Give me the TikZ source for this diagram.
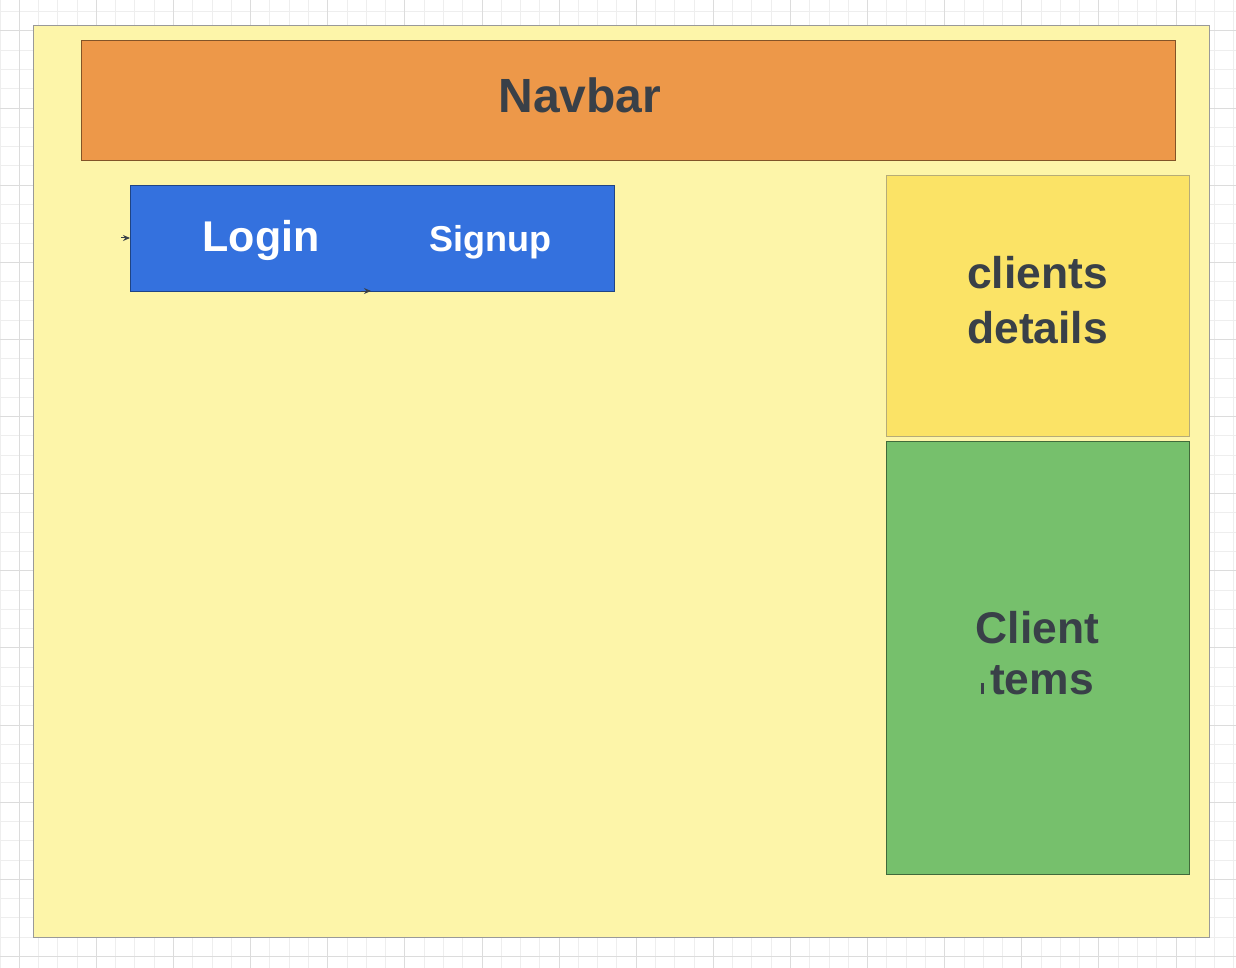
\documentclass[tikz,border=0pt]{standalone}
\usepackage{fontspec}
\setmainfont{Liberation Sans}
\usepackage{tikz}
\usetikzlibrary{positioning,arrows.meta}
\definecolor{gridminor}{HTML}{EEEEEE}
\definecolor{gridmajor}{HTML}{DCDCDC}
\definecolor{pagebg}{HTML}{FDF5A9}
\definecolor{navfill}{HTML}{ED9849}
\definecolor{authfill}{HTML}{3471DE}
\definecolor{detailfill}{HTML}{FBE366}
\definecolor{itemfill}{HTML}{76C06C}
\definecolor{ink}{HTML}{394048}

\begin{document}
\begin{tikzpicture}[x=0.5pt,y=-0.5pt,
  panel/.style={draw=#1,line width=0.5pt,inner sep=0pt},
  label/.style={font=\bfseries,text=ink,align=center,inner sep=0pt},
  blabel/.style={font=\bfseries,text=white,inner sep=0pt,anchor=base}]
  \useasboundingbox (0,0) rectangle (1236,968);
  \fill[white] (0,0) rectangle (1236,968);
  \foreach \i in {0,...,64}
    \draw[gridminor,line width=0.5pt] ({19.28*\i},0) -- ({19.28*\i},968);
  \foreach \i in {0,...,49}
    \draw[gridminor,line width=0.5pt] (0,{11.7+19.28*\i}) -- (1236,{11.7+19.28*\i});
  \foreach \i in {1,5,...,61}
    \draw[gridmajor,line width=0.5pt] ({19.28*\i},0) -- ({19.28*\i},968);
  \foreach \i in {1,5,...,49}
    \draw[gridmajor,line width=0.5pt] (0,{11.7+19.28*\i}) -- (1236,{11.7+19.28*\i});

  \node[panel=black!40,fill=pagebg,minimum width=588pt,minimum height=455.5pt]
    (page) at (621,481.5) {};
  \node[panel=black!45!navfill,fill=navfill,minimum width=547pt,minimum height=60pt]
    (navbar) at (628,101) {};
  \node[label,font=\bfseries\fontsize{24}{28}\selectfont,anchor=base]
    (navtext) at (580,113) {Navbar};

  \node[panel=authfill!60!black,fill=authfill,minimum width=242pt,minimum height=52.5pt]
    (auth) at (372,238.5) {};
  \node[blabel,font=\bfseries\fontsize{21.5}{26}\selectfont] (login) at (261,252) {Login};
  \node[blabel,font=\bfseries\fontsize{18}{22}\selectfont] (signup) at (490,251) {Signup};
  \coordinate (lin) at (121,238);
  \coordinate (lout) at (130,238);
  \coordinate (sin) at (361,291);
  \coordinate (sout) at (371,291);
  \draw[-{Stealth[length=3.5pt,width=3pt]},line width=0.5pt,ink] (lin) -- (lout);
  \draw[-{Stealth[length=3.5pt,width=3pt]},line width=0.5pt,ink] (sin) -- (sout);

  \node[panel=detailfill!60!black!70,fill=detailfill,minimum width=151.5pt,minimum height=130pt]
    (details) at (1037.5,306) {};
  \node[label,font=\bfseries\fontsize{22.2}{27.5}\selectfont] (detailtext)
    at (1037.5,300) {clients\\details};

  \node[panel=itemfill!55!black,fill=itemfill,minimum width=151.5pt,minimum height=216.5pt]
    (items) at (1037.5,657.5) {};
  \node[label,font=\bfseries\fontsize{22.2}{25.5}\selectfont] (itemtext)
    at (1037.5,653) {Client\\\rule{1.5pt}{5.5pt}\hspace{3pt}tems};
\end{tikzpicture}
\end{document}
